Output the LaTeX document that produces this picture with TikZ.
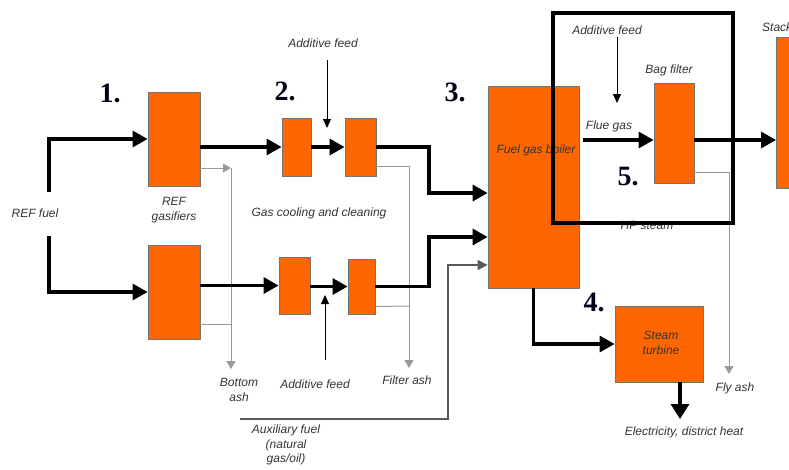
\documentclass[tikz,border=0pt]{standalone}
\usepackage{fontspec}
\setmainfont{Liberation Sans}
\newfontfamily\numfont{Liberation Serif}
\usetikzlibrary{arrows.meta,calc}
\definecolor{boxorange}{HTML}{FF6600}
\begin{document}
\begin{tikzpicture}[x=1pt,y=-1pt,
 box/.style={draw=black!55, fill=boxorange, line width=0.8pt, inner sep=0pt},
 lab/.style={font=\fontsize{12}{14.5}\selectfont\itshape, text=black!80, align=center, inner sep=0pt},
 num/.style={font=\numfont\bfseries\fontsize{28}{28}\selectfont, text=black!90!blue, inner sep=0pt, anchor=base},
 main/.style={line width=3.2pt, -{Triangle[length=15pt,width=16pt]}},
 thinarr/.style={line width=1pt, -{Triangle[length=9pt,width=8pt]}},
 ash/.style={draw=black!40, line width=1pt},
 asharr/.style={ash, -{Triangle[length=8pt,width=9pt]}, black!40},
 auxarr/.style={draw=black!65, line width=1.3pt, -{Triangle[length=10pt,width=10pt]}},
]
\useasboundingbox (0,0) rectangle (789,469);

% boxes
\node[box, minimum width=52pt, minimum height=94pt] (g1) at (174,139) {};
\node[box, minimum width=52pt, minimum height=94pt] (g2) at (174,292) {};
\node[box, minimum width=29pt, minimum height=58pt] (c1a) at (296.5,147) {};
\node[box, minimum width=31pt, minimum height=58pt] (c1b) at (360.5,147) {};
\node[box, minimum width=31pt, minimum height=57pt] (c2a) at (294.5,285.5) {};
\node[box, minimum width=27pt, minimum height=55pt] (c2b) at (361.5,286.5) {};
\node[box, minimum width=91pt, minimum height=202pt] (boiler) at (533.5,187) {};
\node[box, minimum width=40pt, minimum height=100pt] (bag) at (674,133) {};
\node[box, minimum width=40pt, minimum height=151pt, anchor=north west] (stack) at (776,37) {};
\node[box, minimum width=88pt, minimum height=76pt] (turbine) at (659,344) {};

% labels
\node[lab] (fuel) at (35,213) {REF fuel};
\node[lab] (gaslab) at (174,210) {REF\\gasifiers};
\node[lab] (gcc) at (319,213) {Gas cooling and cleaning};
\node[lab] (add1) at (323,43) {Additive feed};
\node[lab] (add2) at (315,384) {Additive feed};
\node[lab] (bash) at (239,390) {Bottom\\ash};
\node[lab] (fash) at (407,380) {Filter ash};
\node[lab, anchor=north] (aux) at (286,425) {Auxiliary fuel\\(natural\\gas/oil)};
\node[lab] (fgb) at (536,150) {Fuel gas boiler};
\node[lab] (add3) at (607,30) {Additive feed};
\node[lab] (baglab) at (669,70) {Bag filter};
\node[lab] (flue) at (609,126) {Flue gas};
\node[lab, anchor=west] (stacklab) at (762,27) {Stack};
\node[lab] (hp) at (647,225) {HP steam};
\node[lab] (stlab) at (661,343) {Steam\\turbine};
\node[lab] (flyash) at (735,388) {Fly ash};
\node[lab] (elec) at (684,432) {Electricity, district heat};

% numbers
\node[num] (n1) at (110,102) {1.};
\node[num] (n2) at (285,100) {2.};
\node[num] (n3) at (455,101) {3.};
\node[num] (n4) at (594,311) {4.};
\node[num] (n5) at (628,185) {5.};

% coordinates
\coordinate (f1) at (49,192);
\coordinate (f2) at (49,236);
\coordinate (a1s) at (327,60);
\coordinate (a1e) at (327,128);
\coordinate (a2s) at (325,360);
\coordinate (a2e) at (325,295);
\coordinate (a3s) at (617,37);
\coordinate (a3e) at (617,103);
\coordinate (bx) at (231,168);
\coordinate (bashend) at (231,369);
\coordinate (fx) at (409,166);
\coordinate (fashend) at (409,368);
\coordinate (flyx) at (729,172);
\coordinate (flyend) at (729,374);
\coordinate (auxs) at (240,419);
\coordinate (bagin) at ([yshift=-7pt]bag.west);
\coordinate (bagout) at ([yshift=-7pt]bag.east);
\coordinate (elecend) at (680,419);

% fuel feeds
\draw[main] (f1) |- (g1.west);
\draw[main] (f2) |- (g2.west);

% ash lines (grey)
\draw[asharr] ([yshift=-29pt]g1.east) -- (bx);
\draw[asharr] (bx) -- (bashend);
\draw[ash] ([yshift=-32pt]g2.east) -- (bashend |- 0,324);
\draw[ash] ([yshift=-19pt]c1b.east) -- (fx);
\draw[asharr] (fx) -- (fashend);
\draw[ash] ([yshift=-20pt]c2b.east) -- (fashend |- 0,306);
\draw[ash] ([yshift=-39pt]bag.east) -- (flyx);
\draw[asharr] (flyx) -- (flyend);

% gas lines
\draw[main] (g1.east |- c1a.west) -- (c1a.west);
\draw[main] (c1a.east) -- (c1b.west);
\draw[main] (g2.east |- c2a.west) -- (c2a.west);
\draw[main] (c2a.east |- c2b.west) -- (c2b.west);
\draw[main] (c1b.east) -- (429,147) |- ([yshift=-6pt]boiler.west);
\draw[main] (c2b.east) -- (429,286.5) |- ([yshift=-50pt]boiler.west);
\draw[auxarr] (auxs) -- (448,419) |- ([yshift=-78pt]boiler.west);

% additive feeds
\draw[thinarr] (a1s) -- (a1e);
\draw[thinarr] (a2s) -- (a2e);
\draw[thinarr] (a3s) -- (a3e);

% boiler to turbine, flue gas
\draw[main] (boiler.south) |- (turbine.west);
\draw[main] ($(boiler.east |- bagin)+(4,0)$) -- (bagin);
\draw[main] (bagout) -- (stack.west |- bagout);
\draw[line width=3.2pt, -{Triangle[length=15pt,width=18pt]}] (turbine.south -| elecend) -- (elecend);

% frame 5
\draw[line width=4.5pt] (553,13) rectangle (733,223);
\end{tikzpicture}
\end{document}
